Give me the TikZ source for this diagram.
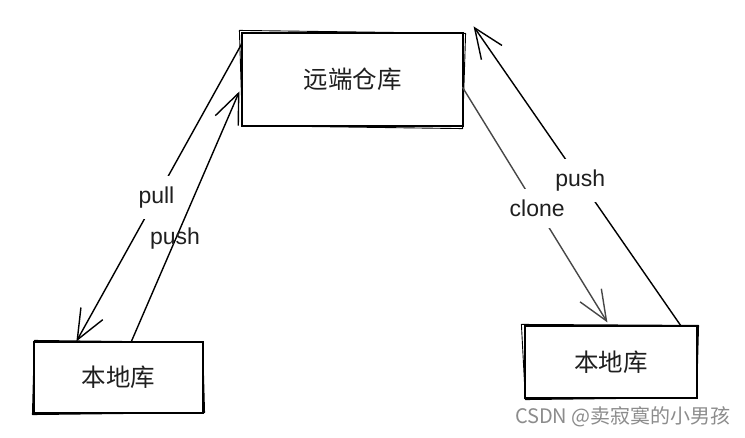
\documentclass[tikz,border=0pt]{standalone}
\usepackage{fontspec}
\setmainfont{Liberation Sans}
\newfontfamily\cjk{Noto Sans CJK SC}
\usetikzlibrary{arrows.meta,calc}
\begin{document}
\begin{tikzpicture}[x=1pt,y=-1pt,
  box/.style={draw=black, line width=1.2pt, rectangle, inner sep=0pt, font=\cjk\fontsize{24.5}{28}\selectfont, text=black!88},
  jit/.style={draw=black, line width=0.9pt, line join=round},
  conn/.style={draw=black, line width=1.4pt, line cap=round, -{Straight Barb[length=30pt,width=25pt,line width=1.4pt]}},
  lbl/.style={font=\fontsize{23}{27}\selectfont, text=black!88, inner sep=0pt},
  gap/.style={lbl, fill=white, inner xsep=3pt, inner ysep=11pt}
]
\useasboundingbox[fill=white] (0,0) rectangle (745,437);

% boxes
\node[box, minimum width=221pt, minimum height=93pt] (remote) at (352.5,79.5) {远端仓库};
\node[box, minimum width=169pt, minimum height=71pt] (left) at (118.5,377.5) {本地库};
\node[box, minimum width=172pt, minimum height=72pt] (right) at (611,362) {本地库};

% sketchy second strokes
\draw[jit] ($(remote.north west)+(-2,-2)$) -- ($(remote.north east)+(2,1)$) -- ($(remote.south east)+(-1,2)$) -- ($(remote.south west)+(1,-1)$) -- cycle;
\draw[jit] ($(left.north west)+(1,-1)$) -- ($(left.north east)+(-1,1)$) -- ($(left.south east)+(1,-1)$) -- ($(left.south west)+(-1,1)$) -- cycle;
\draw[jit] ($(right.north west)+(-3,-1)$) -- ($(right.north east)+(1,0)$) -- ($(right.south east)+(-1,-1)$) -- ($(right.south west)+(1,1)$) -- cycle;

% left connectors
\draw[conn] ($(remote.north west)+(0,12)$) -- node[gap, pos=0.515] (pull) {pull} ($(left.north west)+(43,0)$);
\draw[conn] ($(left.north west)+(98,0)$) -- ($(remote.north west)+(-2,59)$);
\node[lbl] (pushL) at (175,239) {push};

% right connectors
\draw[conn, draw=black!72] ($(remote.north east)+(-1,55)$) -- node[gap, pos=0.515] (clone) {clone} ($(right.north west)+(83,-3)$);
\draw[conn] ($(right.north east)+(-17,0)$) -- node[gap, pos=0.485] (pushR) {push} ($(remote.north east)+(10,-6)$);

% watermark
\node[anchor=east, font=\cjk\fontsize{20}{24}\selectfont, text=black!45, inner sep=0pt] (wm) at (731,417) {CSDN @卖寂寞的小男孩};
\end{tikzpicture}
\end{document}
